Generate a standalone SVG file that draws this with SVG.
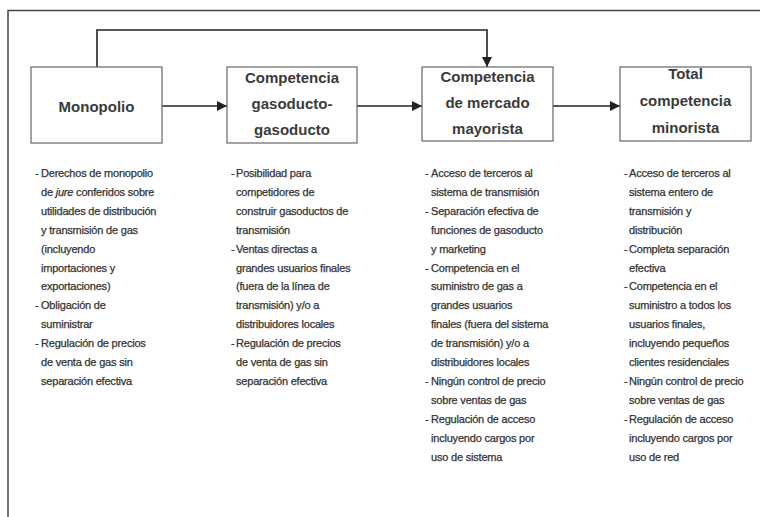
<svg xmlns="http://www.w3.org/2000/svg" width="760" height="517" viewBox="0 0 760 517">
<defs>
<marker id="ah" viewBox="0 0 10 10" refX="10" refY="5" markerWidth="10" markerHeight="10" markerUnits="userSpaceOnUse" orient="auto">
<path d="M0,0 L10,5 L0,10 z" fill="#222"/>
</marker>
<style>
.box{fill:#fff;stroke:#666;stroke-width:1.2}
.title{font-family:"Liberation Sans",Arial,sans-serif;font-weight:bold;font-size:15px;fill:#3a3a3a;text-anchor:middle}
.body{font-family:"Liberation Sans",Arial,sans-serif;font-size:11px;fill:#333;stroke:#333;stroke-width:0.25px;letter-spacing:-0.2px}
.conn{fill:none;stroke:#222;stroke-width:1.6}
.frame{fill:none;stroke:#444;stroke-width:1.5}
</style>
</defs>
<rect width="760" height="517" fill="#fff"/>
<path class="frame" d="M8,517 V10.5 H760"/>

<g id="connectors">
<path class="conn" d="M162,106 H227" marker-end="url(#ah)"/>
<path class="conn" d="M357,106 H422" marker-end="url(#ah)"/>
<path class="conn" d="M553,106 H620" marker-end="url(#ah)"/>
<path class="conn" d="M97,67 V30 H487 V67" marker-end="url(#ah)"/>
</g>

<g id="monopolio">
<rect class="box" x="31" y="67" width="131" height="76"/>
<text class="title" x="96.5" y="112">Monopolio</text>
</g>
<g id="gasoducto">
<rect class="box" x="227" y="67" width="130" height="76"/>
<text class="title" x="292" y="83">Competencia</text>
<text class="title" x="292" y="109">gasoducto-</text>
<text class="title" x="292" y="135">gasoducto</text>
</g>
<g id="mayorista">
<rect class="box" x="422" y="67" width="131" height="74"/>
<text class="title" x="487.5" y="82">Competencia</text>
<text class="title" x="487.5" y="108">de mercado</text>
<text class="title" x="487.5" y="134">mayorista</text>
</g>
<g id="minorista">
<rect class="box" x="620" y="67" width="131" height="74"/>
<text class="title" x="685.5" y="79">Total</text>
<text class="title" x="685.5" y="106">competencia</text>
<text class="title" x="685.5" y="133">minorista</text>
</g>

<g id="desc-monopolio" class="body">
<text x="35" y="177">-</text>
<text x="41" y="177">Derechos de monopolio</text>
<text x="41" y="195.9">de <tspan font-style="italic">jure</tspan> conferidos sobre</text>
<text x="41" y="214.8">utilidades de distribución</text>
<text x="41" y="233.7">y transmisión de gas</text>
<text x="41" y="252.6">(incluyendo</text>
<text x="41" y="271.5">importaciones y</text>
<text x="41" y="290.4">exportaciones)</text>
<text x="35" y="309.3">-</text>
<text x="41" y="309.3">Obligación de</text>
<text x="41" y="328.2">suministrar</text>
<text x="35" y="347.1">-</text>
<text x="41" y="347.1">Regulación de precios</text>
<text x="41" y="366">de venta de gas sin</text>
<text x="41" y="384.9">separación efectiva</text>
</g>

<g id="desc-gasoducto" class="body">
<text x="231" y="177">-</text>
<text x="236" y="177">Posibilidad para</text>
<text x="236" y="195.9">competidores de</text>
<text x="236" y="214.8">construir gasoductos de</text>
<text x="236" y="233.7">transmisión</text>
<text x="231" y="252.6">-</text>
<text x="236" y="252.6">Ventas directas a</text>
<text x="236" y="271.5">grandes usuarios finales</text>
<text x="236" y="290.4">(fuera de la línea de</text>
<text x="236" y="309.3">transmisión) y/o a</text>
<text x="236" y="328.2">distribuidores locales</text>
<text x="231" y="347.1">-</text>
<text x="236" y="347.1">Regulación de precios</text>
<text x="236" y="366">de venta de gas sin</text>
<text x="236" y="384.9">separación efectiva</text>
</g>

<g id="desc-mayorista" class="body">
<text x="425" y="177">-</text>
<text x="431" y="177">Acceso de terceros al</text>
<text x="431" y="195.9">sistema de transmisión</text>
<text x="425" y="214.8">-</text>
<text x="431" y="214.8">Separación efectiva de</text>
<text x="431" y="233.7">funciones de gasoducto</text>
<text x="431" y="252.6">y marketing</text>
<text x="425" y="271.5">-</text>
<text x="431" y="271.5">Competencia en el</text>
<text x="431" y="290.4">suministro de gas a</text>
<text x="431" y="309.3">grandes usuarios</text>
<text x="431" y="328.2">finales (fuera del sistema</text>
<text x="431" y="347.1">de transmisión) y/o a</text>
<text x="431" y="366">distribuidores locales</text>
<text x="425" y="384.9">-</text>
<text x="431" y="384.9">Ningún control de precio</text>
<text x="431" y="403.8">sobre ventas de gas</text>
<text x="425" y="422.7">-</text>
<text x="431" y="422.7">Regulación de acceso</text>
<text x="431" y="441.6">incluyendo cargos por</text>
<text x="431" y="460.5">uso de sistema</text>
</g>

<g id="desc-minorista" class="body">
<text x="624" y="177">-</text>
<text x="629" y="177">Acceso de terceros al</text>
<text x="629" y="195.9">sistema entero de</text>
<text x="629" y="214.8">transmisión y</text>
<text x="629" y="233.7">distribución</text>
<text x="624" y="252.6">-</text>
<text x="629" y="252.6">Completa separación</text>
<text x="629" y="271.5">efectiva</text>
<text x="624" y="290.4">-</text>
<text x="629" y="290.4">Competencia en el</text>
<text x="629" y="309.3">suministro a todos los</text>
<text x="629" y="328.2">usuarios finales,</text>
<text x="629" y="347.1">incluyendo pequeños</text>
<text x="629" y="366">clientes residenciales</text>
<text x="624" y="384.9">-</text>
<text x="629" y="384.9">Ningún control de precio</text>
<text x="629" y="403.8">sobre ventas de gas</text>
<text x="624" y="422.7">-</text>
<text x="629" y="422.7">Regulación de acceso</text>
<text x="629" y="441.6">incluyendo cargos por</text>
<text x="629" y="460.5">uso de red</text>
</g>
</svg>
